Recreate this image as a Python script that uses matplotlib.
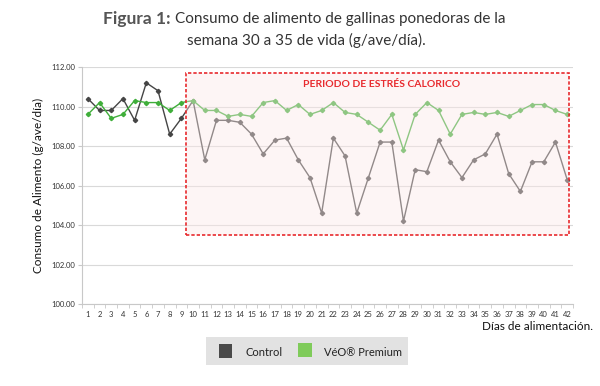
import matplotlib
matplotlib.use("Agg")
import matplotlib.pyplot as plt
from matplotlib.patches import Rectangle

days = list(range(1, 43))
control = [110.4, 109.8, 109.8, 110.4, 109.3, 111.2, 110.8, 108.6, 109.4, 110.3,
           107.3, 109.3, 109.3, 109.2, 108.6, 107.6, 108.3, 108.4, 107.3, 106.4,
           104.6, 108.4, 107.5, 104.6, 106.4, 108.2, 108.2, 104.2, 106.8, 106.7,
           108.3, 107.2, 106.4, 107.3, 107.6, 108.6, 106.6, 105.7, 107.2, 107.2,
           108.2, 106.3]
veo = [109.6, 110.2, 109.4, 109.6, 110.3, 110.2, 110.2, 109.8, 110.2, 110.3,
       109.8, 109.8, 109.5, 109.6, 109.5, 110.2, 110.3, 109.8, 110.1, 109.6,
       109.8, 110.2, 109.7, 109.6, 109.2, 108.8, 109.6, 107.8, 109.6, 110.2,
       109.8, 108.6, 109.6, 109.7, 109.6, 109.7, 109.5, 109.8, 110.1, 110.1,
       109.8, 109.6]
yticks = [100, 102, 104, 106, 108, 110, 112]
series_names = ["Control", "VéO® Premium"]
stress_start, stress_end = 9.4, 42.2
stress_low, stress_high = 103.5, 111.7

fam = ["Lato", "DejaVu Sans"]
plt.rcParams["font.family"] = fam

fig = plt.figure(figsize=(6, 3.86), dpi=100)
ax = fig.add_axes([0.1367, 0.2124, 0.8183, 0.614])

c_ctrl = "#454545"
c_veo = "#3fae3a"
ax.plot(days, control, color=c_ctrl, lw=1.0, marker="D", ms=2.2, zorder=3)
ax.plot(days, veo, color=c_veo, lw=1.0, marker="D", ms=2.2, zorder=3)

# translucent stress-period box
ax.add_patch(Rectangle((stress_start, stress_low), stress_end - stress_start,
                       stress_high - stress_low, facecolor=(252/255, 232/255, 232/255),
                       alpha=0.42, edgecolor="none", zorder=4))
ax.add_patch(Rectangle((stress_start, stress_low), stress_end - stress_start,
                       stress_high - stress_low, facecolor="none",
                       edgecolor="#e82a2e", lw=1.2, linestyle=(0, (2, 1.2)), zorder=5))
ax.text(26.1, 111.1, "PERIODO DE ESTRÉS CALORICO", color="#e82a2e", fontsize=7.5,
        fontweight="bold", ha="center", va="center", zorder=6)

ax.set_xlim(0.5, 42.5)
ax.set_ylim(100, 112)
ax.set_yticks(yticks)
ax.set_yticklabels([f"{v:.2f}" for v in yticks], fontsize=5.5, color="#333333")
ax.set_xticks(days)
ax.set_xticklabels([str(d) for d in days], fontsize=5.5, color="#333333")
ax.set_xticks([d + 0.5 for d in range(0, 43)], minor=True)
ax.tick_params(axis="x", which="major", length=0, pad=5)
ax.tick_params(axis="x", which="minor", length=3, color="#c8c8c8")
ax.tick_params(axis="y", length=3, color="#c8c8c8", pad=2)
ax.grid(axis="y", color="#d9d9d9", lw=0.8)
ax.set_axisbelow(True)
for s in ["top", "right"]:
    ax.spines[s].set_visible(False)
for s in ["left", "bottom"]:
    ax.spines[s].set_color("#c8c8c8")

ax.set_ylabel("Consumo de Alimento (g/ave/día)", fontsize=8.5, color="#111111",
              labelpad=5)

fig.text(0.988, 0.153, "Días de alimentación.", fontsize=8.5, ha="right", va="center",
         color="#111111")

# title
fig.text(0.284, 0.951, "Figura 1:", fontsize=12.5, fontweight="bold", color="#555555",
         ha="right", va="center")
fig.text(0.292, 0.951, "Consumo de alimento de gallinas ponedoras de la", fontsize=11,
         color="#333333", ha="left", va="center")
fig.text(0.51, 0.895, "semana 30 a 35 de vida (g/ave/día).", fontsize=11,
         color="#333333", ha="center", va="center")

# legend box
fig.patches.append(Rectangle((0.343, 0.054), 0.337, 0.0725, transform=fig.transFigure,
                             facecolor="#e2e2e2", edgecolor="none"))
fig.patches.append(Rectangle((0.365, 0.0725), 0.0217, 0.0363, transform=fig.transFigure,
                             facecolor="#4a4a4a", edgecolor="none"))
fig.text(0.41, 0.0855, series_names[0], fontsize=8, va="center", color="#222222")
fig.patches.append(Rectangle((0.497, 0.075), 0.0233, 0.0363, transform=fig.transFigure,
                             facecolor="#7fcb5a", edgecolor="none"))
fig.text(0.54, 0.088, series_names[1], fontsize=8, va="center", color="#222222")

fig.savefig("out.png", dpi=100)
